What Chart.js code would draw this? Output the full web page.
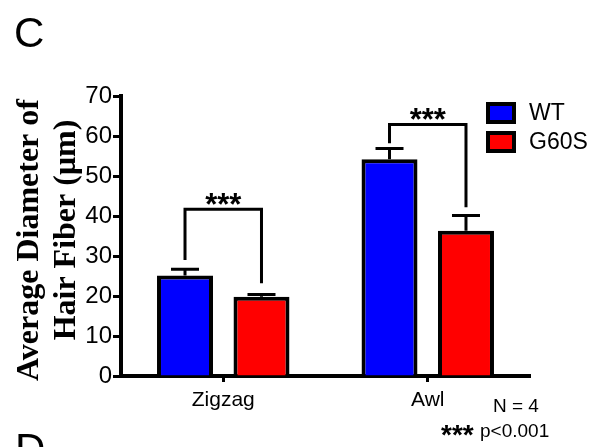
<!DOCTYPE html>
<html>
<head>
<meta charset="utf-8">
<script src="https://cdn.jsdelivr.net/npm/chart.js@4/dist/chart.umd.min.js"></script>
<style>
  html, body { margin: 0; padding: 0; background: #fff; }
  #wrap { width: 598px; height: 447px; }
</style>
</head>
<body>
<div id="wrap"><canvas id="barChart" width="598" height="447"></canvas></div>
<script>
// --- data ---
const categories = ['Zigzag', 'Awl'];
const seriesNames = ['WT', 'G60S'];
const wtMeans = [25.1, 54.2];
const wtErrors = [1.6, 2.7];
const g60sMeans = [19.8, 36.3];
const g60sErrors = [0.6, 3.8];
const yTicks = [0, 10, 20, 30, 40, 50, 60, 70];

// significance brackets (data units): horizontal bar, left leg end, right leg end
const bracketTop = [41.7, 62.9];
const bracketLeftEnd = [29.0, 58.2];
const bracketRightEnd = [23.2, 42.2];
const bracketLabel = ['***', '***'];

const SANS = '"Liberation Sans", Arial, sans-serif';
const SERIF = '"Liberation Serif", "Times New Roman", serif';

const decorPlugin = {
    id: 'decor',
    afterDatasetsDraw(chart) {
        const { ctx, scales: { y } } = chart;
        const errs = [wtErrors, g60sErrors];
        ctx.save();
        ctx.strokeStyle = '#000';
        ctx.lineWidth = 3;

        // error bars (upper whisker only)
        chart.data.datasets.forEach((ds, i) => {
            const meta = chart.getDatasetMeta(i);
            meta.data.forEach((bar, j) => {
                const yTop = y.getPixelForValue(ds.data[j] + errs[i][j]);
                ctx.beginPath();
                ctx.moveTo(bar.x, bar.y);
                ctx.lineTo(bar.x, yTop);
                ctx.moveTo(bar.x - 14, yTop);
                ctx.lineTo(bar.x + 14, yTop);
                ctx.stroke();
            });
        });

        // brackets + stars
        const m0 = chart.getDatasetMeta(0).data;
        const m1 = chart.getDatasetMeta(1).data;
        categories.forEach((c, j) => {
            const xl = m0[j].x, xr = m1[j].x;
            const yb = y.getPixelForValue(bracketTop[j]);
            ctx.beginPath();
            ctx.moveTo(xl, y.getPixelForValue(bracketLeftEnd[j]));
            ctx.lineTo(xl, yb);
            ctx.lineTo(xr, yb);
            ctx.lineTo(xr, y.getPixelForValue(bracketRightEnd[j]));
            ctx.stroke();

            ctx.fillStyle = '#000';
            ctx.font = 'bold 31px ' + SANS;
            ctx.textAlign = 'center';
            ctx.textBaseline = 'alphabetic';
            ctx.fillText(bracketLabel[j], (xl + xr) / 2, yb - 12 + 18);
        });
        ctx.restore();
    },
    afterDraw(chart) {
        const { ctx } = chart;
        ctx.save();
        ctx.fillStyle = '#000';

        // y-axis title, two lines, rotated
        ctx.font = 'bold 32px ' + SERIF;
        ctx.textAlign = 'center';
        ctx.textBaseline = 'alphabetic';
        [['Average Diameter of', 38, 240], ['Hair Fiber (\u03bcm)', 75, 230]].forEach(([t, x, yc]) => {
            ctx.save();
            ctx.translate(x, yc);
            ctx.rotate(-Math.PI / 2);
            ctx.fillText(t, 0, 0);
            ctx.restore();
        });

        // legend
        const colors = chart.data.datasets.map(d => d.backgroundColor);
        seriesNames.forEach((name, i) => {
            const bx = 486, by = 102 + i * 29;
            ctx.fillStyle = '#000';
            ctx.fillRect(bx, by, 30, 22);
            ctx.fillStyle = colors[i];
            ctx.fillRect(bx + 4, by + 4, 22, 14);
            ctx.fillStyle = '#000';
            ctx.font = '23px ' + SANS;
            ctx.textAlign = 'left';
            ctx.textBaseline = 'middle';
            ctx.fillText(name, 529, by + 12);
        });

        // panel letters
        ctx.font = '42px ' + SANS;
        ctx.textAlign = 'left';
        ctx.textBaseline = 'alphabetic';
        ctx.fillText('C', 14, 47);
        ctx.fillText('D', 15, 463);

        // footnotes
        ctx.font = '19px ' + SANS;
        ctx.fillText('N = 4', 493, 412);
        ctx.fillText('p<0.001', 480, 437);
        ctx.font = 'bold 28px ' + SANS;
        ctx.fillText('***', 441, 444);
        ctx.restore();
    }
};

const elBar = document.getElementById('barChart');
window.barChart = new Chart(elBar.getContext('2d'), {
    type: 'bar',
    data: {
        labels: categories,
        datasets: [
            { label: seriesNames[0], data: wtMeans, backgroundColor: '#0000ff', borderColor: '#000', borderWidth: 4, borderSkipped: 'bottom' },
            { label: seriesNames[1], data: g60sMeans, backgroundColor: '#ff0000', borderColor: '#000', borderWidth: 4, borderSkipped: 'bottom' }
        ]
    },
    options: {
        responsive: false,
        animation: false,
        categoryPercentage: 0.748,
        barPercentage: 0.732,
        layout: { padding: { top: 96, right: 68, bottom: 0, left: 0 } },
        plugins: { legend: { display: false }, tooltip: { enabled: false } },
        scales: {
            x: {
                afterFit: (s) => { s.height = 71; },
                grid: { offset: false, drawOnChartArea: false, tickLength: 6, tickWidth: 3, tickColor: '#000' },
                border: { color: '#000', width: 4 },
                ticks: { color: '#000', padding: 6, font: { family: SANS, size: 21 } }
            },
            y: {
                min: 0,
                max: 70,
                afterFit: (s) => { s.width = 121; },
                afterBuildTicks: (s) => { s.ticks = yTicks.map(v => ({ value: v })); },
                grid: { drawOnChartArea: false, tickLength: 8, tickWidth: 3, tickColor: '#000' },
                border: { color: '#000', width: 4 },
                ticks: { color: '#000', padding: 1, font: { family: SANS, size: 24 } }
            }
        }
    },
    plugins: [decorPlugin]
});
</script>
</body>
</html>
